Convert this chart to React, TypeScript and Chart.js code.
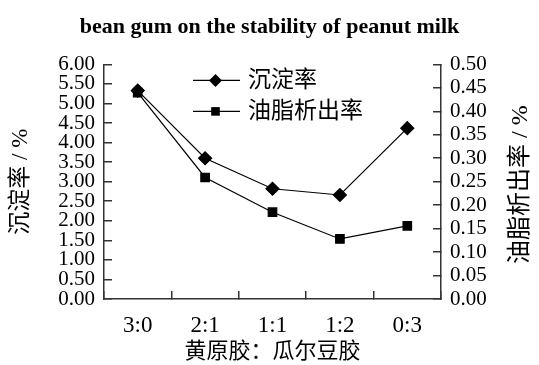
import React, { useEffect, useRef } from 'react';
import { Chart, registerables } from 'chart.js';

Chart.register(...registerables);

const categories = ['3:0', '2:1', '1:1', '1:2', '0:3'];
const sedimentRate = [5.33, 3.6, 2.82, 2.66, 4.37];
const oilRate = [0.44, 0.259, 0.185, 0.128, 0.156];
const seriesNames = ['沉淀率', '油脂析出率'];
const chartTitle = 'bean gum on the stability of peanut milk';
const xTitle = '黄原胶：瓜尔豆胶';
const leftTitle = '沉淀率 / %';
const rightTitle = '油脂析出率 / %';

const FAMILY = '"Liberation Serif", "Noto Sans CJK SC", serif';
const AXIS = '#333';

const overlayPlugin = {
  id: 'overlay',
  afterDraw(chart: any) {
    const ctx = chart.ctx as CanvasRenderingContext2D;
    const a = chart.chartArea;
    ctx.save();
    chart.data.datasets.forEach((ds: any, i: number) => {
      const y = a.top + 16 + i * 31;
      const x0 = a.left + 89;
      const x1 = a.left + 136;
      const xm = (x0 + x1) / 2 - 1;
      ctx.strokeStyle = '#000';
      ctx.lineWidth = 1.2;
      ctx.beginPath();
      ctx.moveTo(x0, y);
      ctx.lineTo(x1, y);
      ctx.stroke();
      ctx.fillStyle = '#000';
      ctx.beginPath();
      if (ds.pointStyle === 'rectRot') {
        const r = 6.5;
        ctx.moveTo(xm, y - r);
        ctx.lineTo(xm + r, y);
        ctx.lineTo(xm, y + r);
        ctx.lineTo(xm - r, y);
        ctx.closePath();
      } else {
        const s = 4.3;
        ctx.rect(xm - s, y - s, 2 * s, 2 * s);
      }
      ctx.fill();
      ctx.font = `23px ${FAMILY}`;
      ctx.textAlign = 'left';
      ctx.textBaseline = 'middle';
      ctx.fillText(ds.label, a.left + 144, y + 1);
    });
    // right axis title, reading bottom to top
    ctx.translate(521, (a.top + a.bottom) / 2 + 3);
    ctx.rotate(-Math.PI / 2);
    ctx.font = `24px ${FAMILY}`;
    ctx.textAlign = 'center';
    ctx.textBaseline = 'middle';
    ctx.fillStyle = '#000';
    ctx.fillText(rightTitle, 0, 0);
    ctx.restore();
  },
};

export default function App() {
  const ref = useRef<HTMLCanvasElement>(null);

  useEffect(() => {
    document.body.style.margin = '0';
    const canvas = ref.current;
    if (!canvas) return;
    const chart = new Chart(canvas, {
      type: 'line',
      data: {
        labels: categories,
        datasets: [
          {
            label: seriesNames[0],
            data: sedimentRate,
            yAxisID: 'y',
            borderColor: '#000',
            backgroundColor: '#000',
            borderWidth: 1.2,
            pointStyle: 'rectRot',
            pointRadius: 6.5,
            pointBackgroundColor: '#000',
            pointBorderColor: '#000',
            tension: 0,
            clip: false as any,
          },
          {
            label: seriesNames[1],
            data: oilRate,
            yAxisID: 'y1',
            borderColor: '#000',
            backgroundColor: '#000',
            borderWidth: 1.2,
            pointStyle: 'rect',
            pointRadius: 6,
            pointBackgroundColor: '#000',
            pointBorderColor: '#000',
            tension: 0,
            clip: false as any,
          },
        ],
      },
      options: {
        animation: false,
        responsive: true,
        maintainAspectRatio: false,
        layout: { padding: 0 },
        plugins: {
          legend: { display: false },
          tooltip: { enabled: false },
          title: {
            display: true,
            text: chartTitle,
            color: '#000',
            font: { family: FAMILY, size: 22, weight: 'bold' },
            padding: { top: 14, bottom: 24 },
          },
        },
        scales: {
          x: {
            type: 'category',
            offset: true,
            grid: {
              offset: true,
              drawOnChartArea: false,
              drawTicks: true,
              tickLength: -8,
              color: AXIS,
              lineWidth: 1.5,
            },
            border: { display: true, color: AXIS, width: 1.5 },
            ticks: {
              padding: 21,
              color: '#000',
              maxRotation: 0,
              font: { family: FAMILY, size: 23 },
            },
            title: {
              display: true,
              text: xTitle,
              color: '#000',
              font: { family: FAMILY, size: 22 },
              padding: { top: 0, bottom: 0 },
            },
            afterFit: (s: any) => {
              s.height = 66;
            },
          },
          y: {
            position: 'left',
            min: 0,
            max: 6,
            grid: {
              drawOnChartArea: false,
              tickLength: -8,
              color: AXIS,
              lineWidth: 1.5,
            },
            border: { display: true, color: AXIS, width: 1.5 },
            ticks: {
              stepSize: 0.5,
              autoSkip: false,
              padding: 17,
              color: '#000',
              font: { family: FAMILY, size: 21 },
              callback: (v: any) => Number(v).toFixed(2),
            },
            title: {
              display: true,
              text: leftTitle,
              color: '#000',
              font: { family: FAMILY, size: 23 },
              padding: { top: 7, bottom: 0 },
            },
            afterFit: (s: any) => {
              s.width = 104;
            },
          },
          y1: {
            position: 'right',
            min: 0,
            max: 0.5,
            grid: {
              drawOnChartArea: false,
              tickLength: -8,
              color: AXIS,
              lineWidth: 1.5,
            },
            border: { display: true, color: AXIS, width: 1.5 },
            ticks: {
              stepSize: 0.05,
              autoSkip: false,
              padding: 17,
              color: '#000',
              font: { family: FAMILY, size: 21 },
              callback: (v: any) => Number(v).toFixed(2),
            },
            afterFit: (s: any) => {
              s.width = 98;
            },
          },
        },
      },
      plugins: [overlayPlugin],
    });
    return () => chart.destroy();
  }, []);

  return (
    <div style={{ position: 'absolute', left: 0, top: 0, width: 539, height: 365 }}>
      <canvas ref={ref} />
    </div>
  );
}
